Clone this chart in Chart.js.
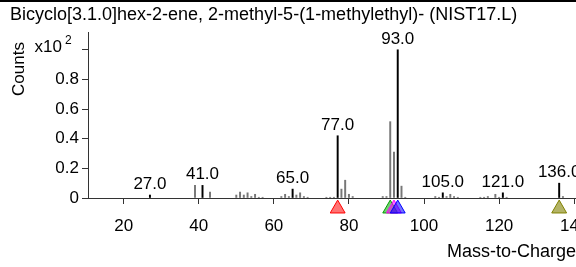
<!DOCTYPE html>
<html>
<head>
<meta charset="utf-8">
<script src="https://cdn.jsdelivr.net/npm/chart.js@4.4.1/dist/chart.umd.min.js"></script>
<style>
html,body{margin:0;padding:0;overflow:hidden;background:#fff;width:576px;height:267px;}
#wrap{position:absolute;left:0;top:0;width:631px;height:267px;}
#topline{position:absolute;left:0;top:0;width:576px;height:2px;background:#000;z-index:2;}
</style>
</head>
<body>
<div id="topline"></div>
<div id="wrap"><canvas id="c"></canvas></div>
<script>
// ---- data ----
const titleText = "Bicyclo[3.1.0]hex-2-ene, 2-methyl-5-(1-methylethyl)- (NIST17.L)";
const masses = [27,39,41,43,50,51,52,53,54,55,56,57,62,63,64,65,66,67,68,69,74,75,76,77,78,79,80,81,89,90,91,92,93,94,95,103,104,105,106,107,108,109,115,116,117,119,120,121,122,136,137];
const intensities = [0.02,0.085,0.085,0.04,0.02,0.04,0.02,0.035,0.01,0.025,0.005,0.005,0.01,0.025,0.01,0.06,0.02,0.035,0.01,0.005,0.005,0.005,0.005,0.42,0.06,0.12,0.025,0.01,0.01,0.01,0.515,0.31,1.0,0.08,0.005,0.01,0.005,0.035,0.01,0.025,0.01,0.005,0.005,0.005,0.01,0.025,0.005,0.035,0.005,0.10,0.01];
const labeledMasses = [27,41,65,77,93,105,121,136];
const markerMasses = [77,91,92,93,136];
const markerFill = ['rgba(255,0,0,0.55)','rgba(0,160,0,0.55)','rgba(255,0,255,0.55)','rgba(0,0,255,0.55)','rgba(128,128,0,0.6)'];
const markerStroke = ['#ff0000','#00a000','#ff00ff','#0000ff','#808000'];
const markerLevel = -0.072;
const xTicks = [20,40,60,80,100,120,140];
const yTicks = [0,0.2,0.4,0.6,0.8,1.0];
const yTickLabels = ['0','0.2','0.4','0.6','0.8',''];
const xMin = 10.5, xMax = 153, yMin = 0, yMax = 1.12;
const xTitle = "Mass-to-Charge Ratio";
const yTitle = "Counts";

const FONT = "'Liberation Sans', Arial, sans-serif";

const annot = {
  id:'annot',
  afterDatasetsDraw(chart){
    const ctx = chart.ctx, xs = chart.scales.x, ys = chart.scales.y;
    ctx.save();
    // triangle markers below the axis
    const r = 8.6;
    markerMasses.forEach((m, i) => {
      const px = xs.getPixelForValue(m);
      const py = ys.getPixelForValue(markerLevel);
      ctx.beginPath();
      ctx.moveTo(px, py - r);
      ctx.lineTo(px + r * Math.sin(2*Math.PI/3), py - r * Math.cos(2*Math.PI/3));
      ctx.lineTo(px + r * Math.sin(4*Math.PI/3), py - r * Math.cos(4*Math.PI/3));
      ctx.closePath();
      ctx.fillStyle = markerFill[i];
      ctx.fill();
      ctx.strokeStyle = markerStroke[i];
      ctx.lineWidth = 1;
      ctx.stroke();
    });
    ctx.fillStyle = '#000';
    // peak labels
    ctx.font = "17px " + FONT;
    ctx.textAlign = 'center';
    ctx.textBaseline = 'alphabetic';
    labeledMasses.forEach(m => {
      const i = masses.indexOf(m);
      const px = xs.getPixelForValue(m);
      const py = ys.getPixelForValue(intensities[i]);
      ctx.fillText(m.toFixed(1), px, py - 6);
    });
    // title
    ctx.font = "18px " + FONT;
    ctx.textAlign = 'left';
    ctx.fillText(titleText, 10, 19.5);
    // y multiplier
    const ty = ys.getPixelForValue(1.0);
    ctx.font = "17px " + FONT;
    ctx.textAlign = 'right';
    ctx.textBaseline = 'middle';
    ctx.fillText('x10', 62, ty - 2);
    ctx.font = "12px " + FONT;
    ctx.textAlign = 'left';
    ctx.fillText('2', 65, ty - 9);
    // y title
    ctx.font = "17px " + FONT;
    ctx.translate(19, 69);
    ctx.rotate(-Math.PI/2);
    ctx.textAlign = 'center';
    ctx.fillText(yTitle, 0, 0);
    ctx.restore();
  }
};

new Chart(document.getElementById('c'), {
  type: 'bar',
  data: {
    datasets: [
      {
        data: masses.map((m,i) => ({x:m, y:intensities[i]})),
        backgroundColor: masses.map(m => labeledMasses.includes(m) ? '#000' : '#777'),
        borderWidth: 0,
        barThickness: 1.3
      }
    ]
  },
  options: {
    responsive: true,
    maintainAspectRatio: false,
    animation: false,
    events: [],
    layout: { padding: { top: 32, right: 8, left: 0, bottom: 0 } },
    plugins: { legend:{display:false}, tooltip:{enabled:false}, title:{display:false} },
    scales: {
      x: {
        type: 'linear', min: xMin, max: xMax, offset: false,
        afterBuildTicks: s => { s.ticks = xTicks.map(v => ({value:v})); },
        afterFit: s => { s.height = 69; },
        grid: { display: true, drawOnChartArea: false, drawTicks: true, tickLength: 6, tickColor: '#333', offset: false },
        border: { display: true, color: '#333', width: 1 },
        ticks: { color: '#000', font: { size: 17, family: FONT }, padding: 12, maxRotation: 0, autoSkip: false },
        title: { display: true, text: xTitle, align: 'end', color: '#000', font: { size: 18, family: FONT }, padding: { top: 0, bottom: 4 } }
      },
      y: {
        type: 'linear', min: yMin, max: yMax,
        afterBuildTicks: s => { s.ticks = yTicks.map(v => ({value:v})); },
        afterFit: s => { s.width = 88; },
        grid: { display: true, drawOnChartArea: false, drawTicks: true, tickLength: 6, tickColor: '#333' },
        border: { display: true, color: '#333', width: 1 },
        ticks: { color: '#000', font: { size: 17, family: FONT }, padding: 3,
          callback: (v, i) => yTickLabels[i] }
      }
    }
  },
  plugins: [annot]
});
</script>
</body>
</html>
